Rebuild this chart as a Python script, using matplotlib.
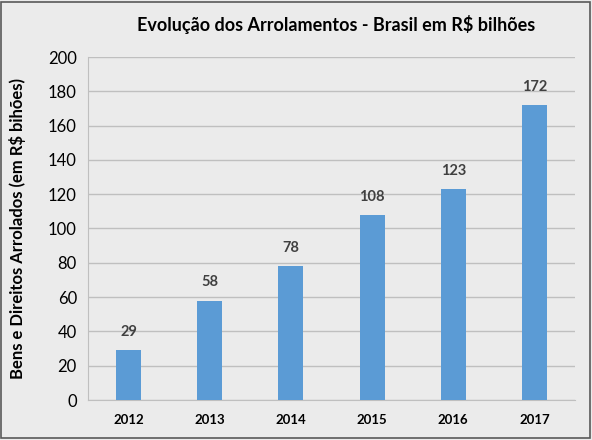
import matplotlib
matplotlib.use("Agg")
import matplotlib.pyplot as plt
from matplotlib.patches import Rectangle

years = ["2012", "2013", "2014", "2015", "2016", "2017"]
values = [29, 58, 78, 108, 123, 172]
yticks = [0, 20, 40, 60, 80, 100, 120, 140, 160, 180, 200]
title = "Evolução dos Arrolamentos - Brasil em R$ bilhões"
ylabel = "Bens e Direitos Arrolados (em R$ bihões)"

plt.rcParams['font.family'] = ['Lato', 'DejaVu Sans']
bg = "#EBEBEB"
fig = plt.figure(figsize=(5.92, 4.40), dpi=100, facecolor=bg)
fig.patches.append(Rectangle((0.002, 0.004), 0.995, 0.992, transform=fig.transFigure,
                             fill=False, edgecolor="#595959", linewidth=1.2))
ax = fig.add_axes([88/592, 40/440, (575-88)/592, (400-57)/440])
ax.set_facecolor(bg)
x = list(range(len(years)))
ax.bar(x, values, width=0.31, color="#5B9BD5", zorder=3)
ax.set_xlim(-0.5, len(years) - 0.5)
ax.set_ylim(0, 200)
ax.set_yticks(yticks)
ax.set_yticklabels([str(t) for t in yticks], fontsize=12)
ax.set_xticks(x)
ax.set_xticklabels(years, fontsize=9.5, fontweight="bold")
ax.grid(axis="y", color="#BFBFBF", linewidth=1, zorder=0)
for s in ["top", "right"]:
    ax.spines[s].set_visible(False)
ax.spines["left"].set_color("#BFBFBF")
ax.spines["bottom"].set_color("#BFBFBF")
ax.tick_params(axis="both", length=0, pad=8)
ax.tick_params(axis="x", pad=10)
for xi, v in zip(x, values):
    ax.annotate(str(v), (xi, v), xytext=(0, 8), textcoords="offset points",
                ha="center", va="bottom", fontsize=10.5, fontweight="bold", color="#404040")
ax.set_ylabel(ylabel, fontsize=12, fontweight="bold")
ax.yaxis.set_label_coords(-(88 - 26) / 487, 0.5)
fig.text(0.568, 0.945, title, ha="center", va="center", fontsize=13, fontweight="bold")
fig.savefig("out.png", dpi=100, facecolor=bg)
